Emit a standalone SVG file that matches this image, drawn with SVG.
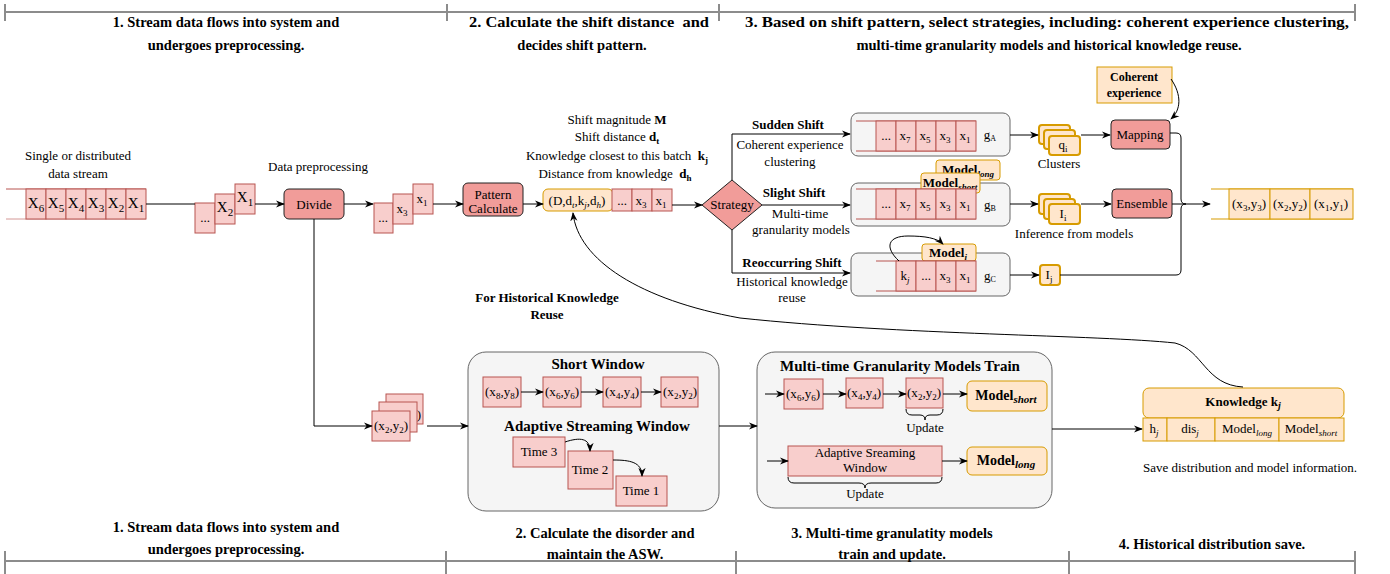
<svg xmlns="http://www.w3.org/2000/svg" width="1390" height="574" viewBox="0 0 1390 574" font-family="'Liberation Serif', 'DejaVu Serif', serif">
<defs>
<marker id="ah" viewBox="0 0 10 10" refX="9" refY="5" markerWidth="9" markerHeight="9" markerUnits="userSpaceOnUse" orient="auto">
<path d="M0,1 L10,5 L0,9 L3,5 Z" fill="#000"/>
</marker>
<style>
text{font-family:'Liberation Serif','DejaVu Serif',serif;font-size:13px;fill:#000}
.c{text-anchor:middle}
.b{font-weight:bold}
.h{font-weight:bold;font-size:14.5px;text-anchor:middle}
.t15{font-size:15px;font-weight:bold;text-anchor:middle}
.cell{fill:#f8cecc;stroke:#b85450;stroke-width:1}
.org{fill:#ffe6cc;stroke:#d79b00;stroke-width:1}
.org2{fill:#ffe6cc;stroke:#d79b00;stroke-width:2}
.strong{fill:#f19c99;stroke:#222;stroke-width:1}
.grp{fill:#f5f5f5;stroke:#666;stroke-width:1}
.ln{fill:none;stroke:#000;stroke-width:1}
.arr{fill:none;stroke:#000;stroke-width:1}
.hl{fill:none;stroke:#8c8c8c;stroke-width:2}
.qp{stroke:#b85450;stroke-width:1}
.qo{stroke:#d79b00;stroke-width:1}
.s{font-size:9px}
.si{font-size:9px;font-style:italic}
</style>
</defs>

<g id="headers">
<path class="hl" d="M5 12 H1355 M5 4 V21 M447 4 V21 M719 4 V21 M1355 4 V21"/>
<text class="h" x="226" y="27">1. Stream data flows into system and</text>
<text class="h" x="226" y="50">undergoes preprocessing.</text>
<text class="h" x="589" y="27" textLength="240" lengthAdjust="spacingAndGlyphs">2. Calculate the shift distance&#160; and</text>
<text class="h" x="582" y="50">decides shift pattern.</text>
<text class="h" x="1047" y="27" textLength="604" lengthAdjust="spacingAndGlyphs">3. Based on shift pattern, select strategies, including: coherent experience clustering,</text>
<text class="h" x="1049" y="50">multi-time granularity models and historical knowledge reuse.</text>
<path class="hl" d="M5 561 H1355 M5 551 V574 M446 551 V574 M736 551 V574 M1069 551 V574 M1355 551 V574"/>
<text class="h" x="226" y="532">1. Stream data flows into system and</text>
<text class="h" x="226" y="554">undergoes preprocessing.</text>
<text class="h" x="605" y="538">2. Calculate the disorder and</text>
<text class="h" x="605" y="559">maintain the ASW.</text>
<text class="h" x="892" y="538">3. Multi-time granulatity models</text>
<text class="h" x="892" y="559">train and update.</text>
<text class="h" x="1212" y="549">4. Historical distribution save.</text>
</g>

<g id="input-stream">
<text class="c" x="78" y="160">Single or distributed</text>
<text class="c" x="78" y="178">data stream</text>
<line class="qp" x1="6" y1="189" x2="146" y2="189"/>
<line class="qp" x1="6" y1="219" x2="146" y2="219" stroke-opacity="0.6"/>
<rect class="cell" x="26" y="189" width="20" height="30"/>
<rect class="cell" x="46" y="189" width="20" height="30"/>
<rect class="cell" x="66" y="189" width="20" height="30"/>
<rect class="cell" x="86" y="189" width="20" height="30"/>
<rect class="cell" x="106" y="189" width="20" height="30"/>
<rect class="cell" x="126" y="189" width="20" height="30"/>
<text class="c" x="36" y="208" style="font-size:15px">X<tspan dy="4" style="font-size:11px">6</tspan></text>
<text class="c" x="56" y="208" style="font-size:15px">X<tspan dy="4" style="font-size:11px">5</tspan></text>
<text class="c" x="76" y="208" style="font-size:15px">X<tspan dy="4" style="font-size:11px">4</tspan></text>
<text class="c" x="96" y="208" style="font-size:15px">X<tspan dy="4" style="font-size:11px">3</tspan></text>
<text class="c" x="116" y="208" style="font-size:15px">X<tspan dy="4" style="font-size:11px">2</tspan></text>
<text class="c" x="136" y="208" style="font-size:15px">X<tspan dy="4" style="font-size:11px">1</tspan></text>
</g>

<g id="batch-raw">
<rect class="cell" x="195" y="203" width="20" height="30"/>
<rect class="cell" x="215" y="194" width="20" height="30"/>
<rect class="cell" x="235" y="184" width="20" height="30"/>
<text class="c" x="205" y="222">...</text>
<text class="c" x="225" y="212" style="font-size:15px">X<tspan dy="4" style="font-size:11px">2</tspan></text>
<text class="c" x="245" y="202" style="font-size:15px">X<tspan dy="4" style="font-size:11px">1</tspan></text>
</g>

<g id="divide">
<text class="c" x="318" y="171">Data preprocessing</text>
<rect class="strong" x="284" y="189" width="60" height="30" rx="5"/>
<text class="c" x="314" y="209">Divide</text>
</g>

<g id="batch-pre">
<rect class="cell" x="374" y="203" width="19" height="30"/>
<rect class="cell" x="393" y="194" width="20" height="30"/>
<rect class="cell" x="413" y="184" width="20" height="30"/>
<text class="c" x="383" y="222">...</text>
<text class="c" x="402" y="213">x<tspan class="s" dy="3">3</tspan></text>
<text class="c" x="422" y="203">x<tspan class="s" dy="3">1</tspan></text>
</g>

<g id="pattern-calculate">
<rect class="strong" x="463" y="183" width="60" height="33" rx="5"/>
<text class="c" x="493" y="199">Pattern</text>
<text class="c" x="493" y="213">Calculate</text>
</g>

<g id="shift-info">
<text class="c" x="617" y="124">Shift magnitude <tspan class="b">M</tspan></text>
<text class="c" x="617" y="141">Shift distance <tspan class="b">d<tspan class="s" dy="3">t</tspan></tspan></text>
<text class="c" x="617" y="160">Knowledge closest to this batch&#160; <tspan class="b">k<tspan class="s" dy="3">j</tspan></tspan></text>
<text class="c" x="615" y="178">Distance from knowledge&#160; <tspan class="b">d<tspan class="s" dy="3">h</tspan></tspan></text>
<rect class="org" x="543" y="189" width="70" height="22" rx="5"/>
<text class="c" x="577" y="205">(D,d<tspan class="si" dy="3">t</tspan><tspan dy="-3">,k</tspan><tspan class="si" dy="3">j</tspan><tspan dy="-3">,d</tspan><tspan class="si" dy="3">h</tspan><tspan dy="-3">)</tspan></text>
<rect class="cell" x="612" y="189" width="20" height="22"/>
<rect class="cell" x="632" y="189" width="20" height="22"/>
<rect class="cell" x="652" y="189" width="20" height="22"/>
<text class="c" x="622" y="205">...</text>
<text class="c" x="641" y="205">x<tspan class="s" dy="3">3</tspan></text>
<text class="c" x="661" y="205">x<tspan class="s" dy="3">1</tspan></text>
</g>

<g id="strategy">
<polygon class="strong" points="702,205 732,180 762,205 732,230"/>
<text class="c" x="732" y="209">Strategy</text>
<text class="c b" x="788" y="129">Sudden Shift</text>
<text class="c" x="790" y="149">Coherent experience</text>
<text class="c" x="790" y="166">clustering</text>
<text class="c b" x="794" y="197">Slight Shift</text>
<text class="c" x="800" y="218">Multi-time</text>
<text class="c" x="801" y="234">granularity models</text>
<text class="c b" x="792" y="267">Reoccurring Shift</text>
<text class="c" x="792" y="286">Historical knowledge</text>
<text class="c" x="792" y="302">reuse</text>
</g>

<g id="group-a">
<rect class="grp" x="851" y="113" width="159" height="43" rx="7"/>
<line class="qp" x1="856" y1="121" x2="976" y2="121"/>
<line class="qp" x1="856" y1="151" x2="976" y2="151"/>
<rect class="cell" x="876" y="121" width="20" height="30"/>
<rect class="cell" x="896" y="121" width="20" height="30"/>
<rect class="cell" x="916" y="121" width="20" height="30"/>
<rect class="cell" x="936" y="121" width="20" height="30"/>
<rect class="cell" x="956" y="121" width="20" height="30"/>
<text class="c" x="886" y="140">...</text>
<text class="c" x="905" y="140">x<tspan class="s" dy="3">7</tspan></text>
<text class="c" x="925" y="140">x<tspan class="s" dy="3">5</tspan></text>
<text class="c" x="945" y="140">x<tspan class="s" dy="3">3</tspan></text>
<text class="c" x="965" y="140">x<tspan class="s" dy="3">1</tspan></text>
<text class="c" x="990" y="139">g<tspan style="font-size:8px" dy="2">A</tspan></text>
</g>

<g id="group-b">
<rect class="grp" x="851" y="183" width="159" height="43" rx="7"/>
<rect class="org" x="936" y="160" width="64" height="20" rx="3"/>
<text class="c b" x="968" y="174">Model<tspan class="si" dy="3">long</tspan></text>
<rect class="org" x="921" y="173" width="59" height="20" rx="3"/>
<text class="c b" x="950" y="187">Model<tspan class="si" dy="3">short</tspan></text>
<line class="qp" x1="856" y1="189" x2="976" y2="189"/>
<line class="qp" x1="856" y1="219" x2="976" y2="219"/>
<rect class="cell" x="876" y="189" width="20" height="30"/>
<rect class="cell" x="896" y="189" width="20" height="30"/>
<rect class="cell" x="916" y="189" width="20" height="30"/>
<rect class="cell" x="936" y="189" width="20" height="30"/>
<rect class="cell" x="956" y="189" width="20" height="30"/>
<text class="c" x="886" y="208">...</text>
<text class="c" x="905" y="208">x<tspan class="s" dy="3">7</tspan></text>
<text class="c" x="925" y="208">x<tspan class="s" dy="3">5</tspan></text>
<text class="c" x="945" y="208">x<tspan class="s" dy="3">3</tspan></text>
<text class="c" x="965" y="208">x<tspan class="s" dy="3">1</tspan></text>
<text class="c" x="990" y="209">g<tspan style="font-size:8px" dy="2">B</tspan></text>
</g>

<g id="group-c">
<rect class="grp" x="851" y="253" width="159" height="43" rx="7"/>
<rect class="org" x="922" y="244" width="54" height="17" rx="3"/>
<text class="c b" x="948" y="257">Model<tspan class="si" dy="3">i</tspan></text>
<line class="qp" x1="876" y1="261" x2="976" y2="261"/>
<line class="qp" x1="876" y1="291" x2="976" y2="291"/>
<rect class="cell" x="896" y="261" width="20" height="30"/>
<rect class="cell" x="916" y="261" width="20" height="30"/>
<rect class="cell" x="936" y="261" width="20" height="30"/>
<rect class="cell" x="956" y="261" width="20" height="30"/>
<text class="c" x="905" y="280">k<tspan class="si" dy="3">j</tspan></text>
<text class="c" x="926" y="280">...</text>
<text class="c" x="945" y="280">x<tspan class="s" dy="3">3</tspan></text>
<text class="c" x="965" y="280">x<tspan class="s" dy="3">1</tspan></text>
<text class="c" x="990" y="280">g<tspan style="font-size:8px" dy="2">C</tspan></text>
</g>

<g id="clusters">
<rect class="org2" x="1039" y="125" width="31" height="19" rx="3"/>
<rect class="org2" x="1044" y="130" width="31" height="19" rx="3"/>
<rect class="org2" x="1049" y="136" width="31" height="19" rx="3"/>
<text class="c" x="1063" y="149">q<tspan class="s" dy="3">i</tspan></text>
<text class="c" x="1059" y="168">Clusters</text>
</g>

<g id="inferences">
<rect class="org2" x="1039" y="194" width="31" height="20" rx="3"/>
<rect class="org2" x="1044" y="199" width="31" height="20" rx="3"/>
<rect class="org2" x="1049" y="204" width="31" height="20" rx="3"/>
<text class="c" x="1063" y="218">I<tspan class="s" dy="3">i</tspan></text>
<text class="c" x="1074" y="238">Inference from models</text>
</g>

<g id="inference-j">
<rect class="org2" x="1040" y="265" width="20" height="20" rx="3"/>
<text class="c" x="1049" y="279">I<tspan class="s" dy="3">j</tspan></text>
</g>

<g id="coherent-experience">
<rect class="org" x="1097" y="67" width="75" height="36"/>
<text class="c b" x="1134" y="81" style="font-size:12px">Coherent</text>
<text class="c b" x="1134" y="97" style="font-size:12px">experience</text>
</g>

<g id="mapping">
<rect class="strong" x="1111" y="120" width="59" height="29" rx="4"/>
<text class="c" x="1140" y="139">Mapping</text>
</g>

<g id="ensemble">
<rect class="strong" x="1112" y="189" width="60" height="29" rx="4"/>
<text class="c" x="1142" y="208">Ensemble</text>
</g>

<g id="output-stream">
<line class="qo" x1="1211" y1="189" x2="1353" y2="189"/>
<line class="qo" x1="1211" y1="219" x2="1353" y2="219"/>
<rect class="org" x="1229" y="189" width="41" height="30"/>
<rect class="org" x="1270" y="189" width="40" height="30"/>
<rect class="org" x="1310" y="189" width="43" height="30"/>
<text class="c" x="1249" y="208">(x<tspan class="s" dy="3">3</tspan><tspan dy="-3">,y</tspan><tspan class="s" dy="3">3</tspan><tspan dy="-3">)</tspan></text>
<text class="c" x="1290" y="208">(x<tspan class="s" dy="3">2</tspan><tspan dy="-3">,y</tspan><tspan class="s" dy="3">2</tspan><tspan dy="-3">)</tspan></text>
<text class="c" x="1331" y="208">(x<tspan class="s" dy="3">1</tspan><tspan dy="-3">,y</tspan><tspan class="s" dy="3">1</tspan><tspan dy="-3">)</tspan></text>
</g>

<g id="history-label">
<text class="c b" x="547" y="302">For Historical Knowledge</text>
<text class="c b" x="547" y="319">Reuse</text>
</g>

<g id="batch-labeled">
<rect class="cell" x="386" y="394" width="37" height="30"/>
<text class="c" x="419" y="419">)</text>
<rect class="cell" x="379" y="402" width="38" height="30"/>
<rect class="cell" x="372" y="411" width="38" height="30"/>
<text class="c" x="391" y="430">(x<tspan class="s" dy="3">2</tspan><tspan dy="-3">,y</tspan><tspan class="s" dy="3">2</tspan><tspan dy="-3">)</tspan></text>
</g>

<g id="short-window">
<rect class="grp" x="468" y="352" width="251" height="159" rx="18"/>
<text class="t15" x="598" y="369">Short Window</text>
<rect class="cell" x="483" y="377" width="38" height="30"/>
<rect class="cell" x="543" y="377" width="38" height="30"/>
<rect class="cell" x="603" y="377" width="38" height="30"/>
<rect class="cell" x="661" y="377" width="37" height="30"/>
<text class="c" x="502" y="396">(x<tspan class="s" dy="3">8</tspan><tspan dy="-3">,y</tspan><tspan class="s" dy="3">8</tspan><tspan dy="-3">)</tspan></text>
<text class="c" x="562" y="396">(x<tspan class="s" dy="3">6</tspan><tspan dy="-3">,y</tspan><tspan class="s" dy="3">6</tspan><tspan dy="-3">)</tspan></text>
<text class="c" x="622" y="396">(x<tspan class="s" dy="3">4</tspan><tspan dy="-3">,y</tspan><tspan class="s" dy="3">4</tspan><tspan dy="-3">)</tspan></text>
<text class="c" x="680" y="396">(x<tspan class="s" dy="3">2</tspan><tspan dy="-3">,y</tspan><tspan class="s" dy="3">2</tspan><tspan dy="-3">)</tspan></text>
<text class="t15" x="597" y="431">Adaptive Streaming Window</text>
<rect class="cell" x="513" y="437" width="52" height="30"/>
<text class="c" x="539" y="456">Time 3</text>
<rect class="cell" x="568" y="451" width="45" height="38"/>
<text class="c" x="590" y="474">Time 2</text>
<rect class="cell" x="616" y="476" width="51" height="30"/>
<text class="c" x="641" y="495">Time 1</text>
</g>

<g id="multi-time-train">
<rect class="grp" x="757" y="352" width="295" height="156" rx="18"/>
<text class="t15" x="900" y="371">Multi-time Granularity Models Train</text>
<rect class="cell" x="784" y="379" width="39" height="30"/>
<rect class="cell" x="846" y="378" width="37" height="30"/>
<rect class="cell" x="906" y="378" width="37" height="30"/>
<text class="c" x="803" y="398">(x<tspan class="s" dy="3">6</tspan><tspan dy="-3">,y</tspan><tspan class="s" dy="3">6</tspan><tspan dy="-3">)</tspan></text>
<text class="c" x="864" y="397">(x<tspan class="s" dy="3">4</tspan><tspan dy="-3">,y</tspan><tspan class="s" dy="3">4</tspan><tspan dy="-3">)</tspan></text>
<text class="c" x="924" y="397">(x<tspan class="s" dy="3">2</tspan><tspan dy="-3">,y</tspan><tspan class="s" dy="3">2</tspan><tspan dy="-3">)</tspan></text>
<text class="c" x="925" y="432">Update</text>
<rect class="org" x="967" y="381" width="80" height="30" rx="5"/>
<text class="c b" x="1006" y="400" style="font-size:14px">Model<tspan class="si" dy="3" style="font-size:11px">short</tspan></text>
<rect class="cell" x="788" y="446" width="154" height="30"/>
<text class="c" x="865" y="457">Adaptive Sreaming</text>
<text class="c" x="865" y="472">Window</text>
<text class="c" x="865" y="498">Update</text>
<rect class="org" x="967" y="447" width="80" height="28" rx="5"/>
<text class="c b" x="1006" y="465" style="font-size:14px">Model<tspan class="si" dy="3" style="font-size:11px">long</tspan></text>
</g>

<g id="knowledge">
<rect class="org" x="1143" y="388" width="201" height="30" rx="6"/>
<text class="c b" x="1243" y="406">Knowledge k<tspan class="si" dy="3" style="font-size:10px">j</tspan></text>
<rect class="org" x="1143" y="418" width="24" height="23"/>
<rect class="org" x="1167" y="418" width="48" height="23"/>
<rect class="org" x="1215" y="418" width="64" height="23"/>
<rect class="org" x="1279" y="418" width="65" height="23"/>
<text class="c" x="1154" y="433">h<tspan class="si" dy="3">j</tspan></text>
<text class="c" x="1190" y="433">dis<tspan class="si" dy="3">j</tspan></text>
<text class="c" x="1247" y="433">Model<tspan class="si" dy="3">long</tspan></text>
<text class="c" x="1311" y="433">Model<tspan class="si" dy="3">short</tspan></text>
<text class="c" x="1250" y="472">Save distribution and model information.</text>
</g>

<g id="connectors">
<path class="ln" d="M146 204 H195"/>
<path class="arr" marker-end="url(#ah)" d="M255 204 H284"/>
<path class="arr" marker-end="url(#ah)" d="M344 204 H373"/>
<path class="arr" marker-end="url(#ah)" d="M433 204 H463"/>
<path class="arr" marker-end="url(#ah)" d="M523 204 H543"/>
<path class="arr" marker-end="url(#ah)" d="M672 205 H702"/>
<path class="arr" marker-end="url(#ah)" d="M732 180 V134 H850"/>
<path class="arr" marker-end="url(#ah)" d="M762 205 H850"/>
<path class="arr" marker-end="url(#ah)" d="M732 230 V273 H850"/>
<path class="arr" marker-end="url(#ah)" d="M1010 135 H1038"/>
<path class="arr" marker-end="url(#ah)" d="M1081 135 H1110"/>
<path class="arr" marker-end="url(#ah)" d="M1010 204 H1038"/>
<path class="arr" marker-end="url(#ah)" d="M1081 204 H1111"/>
<path class="arr" marker-end="url(#ah)" d="M1010 275 H1039"/>
<path class="arr" marker-end="url(#ah)" d="M1171 79 C1182 95 1181 110 1171 119"/>
<path class="ln" d="M1170 133 H1176 Q1181 133 1181 138 V199 Q1181 204 1186 204"/>
<path class="ln" d="M1060 275 H1176 Q1181 275 1181 270 V209 Q1181 204 1186 204"/>
<path class="arr" marker-end="url(#ah)" d="M1172 204 H1210"/>
<path class="arr" marker-end="url(#ah)" d="M899 261 C884 247 888 236 908 236 C925 236 937 238 943 244"/>
<path class="arr" marker-end="url(#ah)" d="M314 219 V426 H372"/>
<path class="arr" marker-end="url(#ah)" d="M427 426 H468"/>
<path class="arr" marker-end="url(#ah)" d="M719 426 H757"/>
<path class="arr" marker-end="url(#ah)" d="M1052 429 H1142"/>
<path class="arr" marker-end="url(#ah)" d="M1243 387 C1205 385 1203 350 1175 343 C1100 335 900 335 740 318 C640 300 578 260 573 213"/>
<path class="arr" marker-end="url(#ah)" d="M521 392 H543"/>
<path class="arr" marker-end="url(#ah)" d="M581 392 H603"/>
<path class="arr" marker-end="url(#ah)" d="M641 392 H661"/>
<path class="arr" marker-end="url(#ah)" d="M565 442 C580 437 590 438 590 451"/>
<path class="arr" marker-end="url(#ah)" d="M613 460 C630 460 642 462 642 476"/>
<path class="arr" marker-end="url(#ah)" d="M765 394 H784"/>
<path class="arr" marker-end="url(#ah)" d="M823 394 H846"/>
<path class="arr" marker-end="url(#ah)" d="M883 394 H906"/>
<path class="arr" marker-end="url(#ah)" d="M943 394 H967"/>
<path class="arr" marker-end="url(#ah)" d="M767 461 H788"/>
<path class="arr" marker-end="url(#ah)" d="M942 461 H967"/>
<path class="ln" d="M906 409 Q906 415 912 415 H920 Q925 415 925 420 Q925 415 930 415 H937 Q943 415 943 409"/>
<path class="ln" d="M788 477 Q788 483 794 483 H859 Q865 483 865 488 Q865 483 871 483 H936 Q942 483 942 477"/>
</g>
</svg>
